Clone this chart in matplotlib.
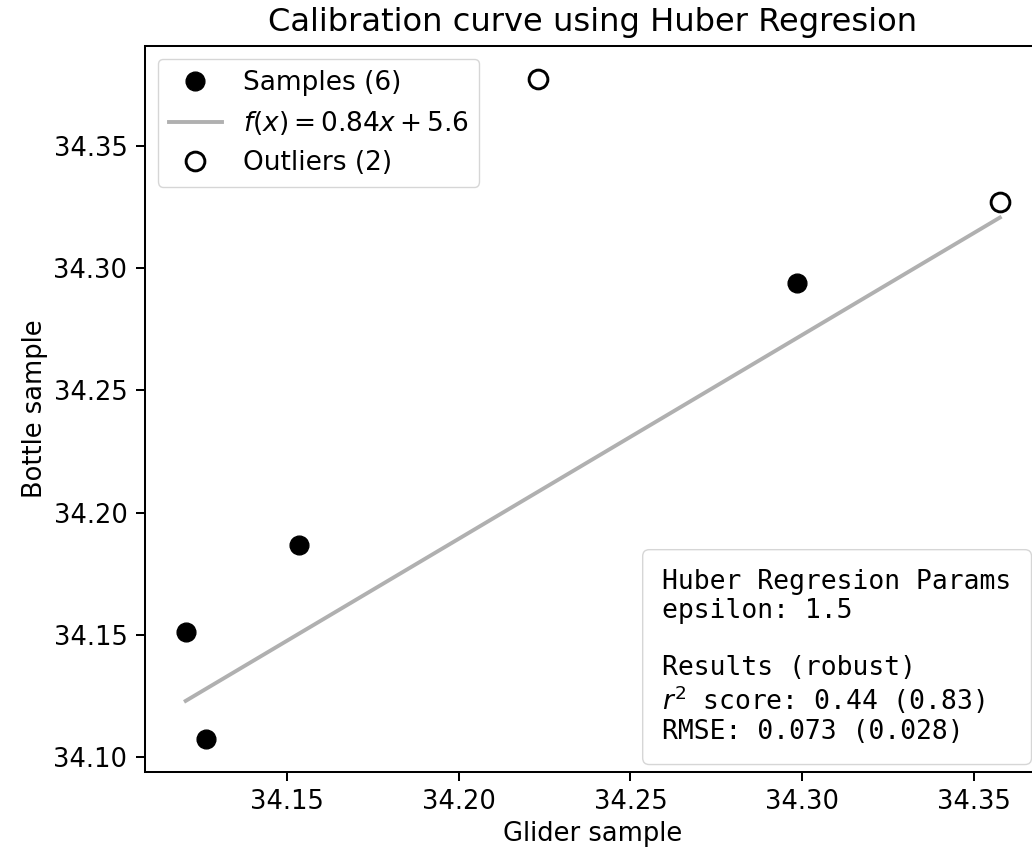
import matplotlib
matplotlib.use("Agg")
import numpy as np
import matplotlib.pyplot as plt

# samples used in the fit
glider = [34.1206, 34.1266, 34.1537, 34.2986]
bottle = [34.1514, 34.1076, 34.1868, 34.2938]

# points flagged as outliers
glider_out = [34.2230, 34.3575]
bottle_out = [34.3773, 34.3269]

# fitted line
slope = 0.834
intercept = 5.6665
fit_label = r"$f(x) = 0.84x + 5.6$"

info = ("Huber Regresion Params\n"
        "epsilon: 1.5\n"
        "\n"
        "Results (robust)\n"
        r"$r^2$ score: 0.44 (0.83)" "\n"
        "RMSE: 0.073 (0.028)")

fs = 18.5
plt.rcParams['axes.linewidth'] = 1.45
plt.rcParams['xtick.major.width'] = 1.45
plt.rcParams['ytick.major.width'] = 1.45
plt.rcParams['xtick.major.size'] = 6.3
plt.rcParams['ytick.major.size'] = 6.3
plt.rcParams['xtick.major.pad'] = 6.3
plt.rcParams['ytick.major.pad'] = 6.3

fig = plt.figure(figsize=(10.32, 8.52), dpi=100)
ax = fig.add_axes([0.1405, 0.0942, 0.8678, 0.8518])

n_all = len(glider) + len(glider_out)
ax.plot(glider, bottle, 'o', color='black', ms=13.5, label="Samples (%d)" % n_all)

all_x = np.array(glider + glider_out)
xs = np.array([all_x.min(), all_x.max()])
ax.plot(xs, slope * xs + intercept, color='#b0b0b0', lw=2.8, label=fit_label)

ax.plot(glider_out, bottle_out, 'o', mfc='white', mec='black', mew=2.1, ms=13.5,
        label="Outliers (%d)" % len(glider_out))

ax.set_xticks([34.15, 34.20, 34.25, 34.30, 34.35])
ax.set_yticks([34.10, 34.15, 34.20, 34.25, 34.30, 34.35])
ax.tick_params(labelsize=fs)

ax.set_xlabel("Glider sample", fontsize=fs)
ax.set_ylabel("Bottle sample", fontsize=fs)
ax.set_title("Calibration curve using Huber Regresion", fontsize=fs * 1.25, pad=11)

ax.legend(loc='upper left', fontsize=19, borderaxespad=0.5)

ax.text(0.9678, 0.0372, info, transform=ax.transAxes, ha='right', va='bottom',
        ma='left', family='DejaVu Sans Mono', fontsize=19, linespacing=1.12,
        bbox=dict(boxstyle='round,pad=0.75,rounding_size=0.25', fc='white',
                  ec='#cccccc', alpha=0.8))

fig.savefig("out.png", dpi=100)
